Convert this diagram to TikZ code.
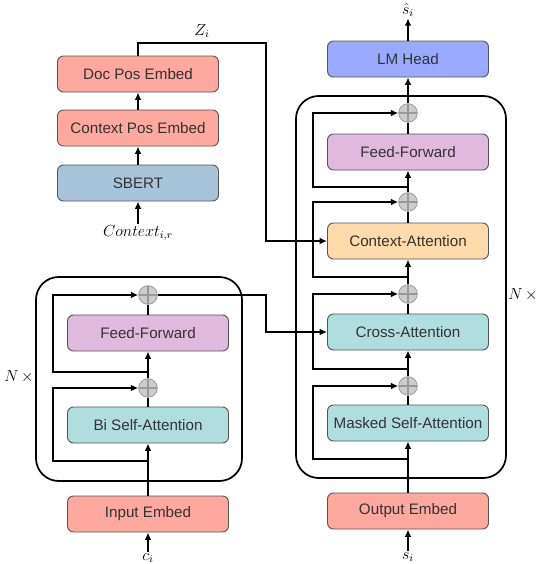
\documentclass[tikz,border=0pt]{standalone}
\usepackage{fontspec}
\setmainfont{Liberation Sans}
\usepackage{amsmath}
\usetikzlibrary{arrows.meta,calc}
\definecolor{embedsalmon}{RGB}{255,168,158}
\definecolor{sbertblue}{RGB}{168,196,218}
\definecolor{headblue}{RGB}{153,170,255}
\definecolor{attnteal}{RGB}{176,221,221}
\definecolor{ctxpeach}{RGB}{255,218,170}
\definecolor{fflavender}{RGB}{224,186,220}
\definecolor{boxedge}{RGB}{85,85,85}
\definecolor{labelgray}{RGB}{51,51,51}
\tikzset{
  >={Latex[length=5.5pt,width=5pt]},
  flow/.style={->,draw=black,line width=1.1pt},
  flowline/.style={draw=black,line width=1.1pt},
  layer/.style={
    draw=boxedge,
    rectangle,
    rounded corners=4.5pt,
    minimum height=27pt,
    minimum width=120.75pt,
    inner sep=2pt,
    align=center,
    text=labelgray,
    line width=0.7pt,
    font=\fontsize{11.4}{13}\selectfont
  },
  addnode/.style={
    draw=gray!80,
    circle,
    fill=gray!40,
    minimum size=14pt,
    inner sep=0pt,
    line width=0.6pt,
    path picture={
      \draw[gray!80,line width=0.8pt]
        (path picture bounding box.north) -- (path picture bounding box.south)
        (path picture bounding box.west) -- (path picture bounding box.east);
    }
  },
  stack/.style={draw=black,line width=1.3pt,rounded corners=17pt},
  io/.style={font=\fontsize{12}{14}\selectfont,inner sep=1pt}
}

\begin{document}
\begin{tikzpicture}[x=0.75pt,y=-0.75pt]
  \useasboundingbox (0,0) rectangle (538,564);

  % Context encoder
  \node[io] (context) at (138,233) {$Context_{i,r}$};
  \node[layer,fill=sbertblue] (sbert) at (138,183) {SBERT};
  \node[layer,fill=embedsalmon] (ctxpos) at (138,128) {Context Pos Embed};
  \node[layer,fill=embedsalmon] (docpos) at (138,74) {Doc Pos Embed};
  \coordinate (zbend) at (266,43);
  \node[io] (zlabel) at (202,31) {$Z_i$};

  \draw[flow] (context) -- (sbert);
  \draw[flow] (sbert) -- (ctxpos);
  \draw[flow] (ctxpos) -- (docpos);

  % Input encoder
  \draw[stack] (36,277) rectangle (242,481);
  \node[io] (encrepeat) at (19,377) {$N\,\times$};
  \node[io] (ci) at (148,558) {$c_i$};
  \node[layer,fill=embedsalmon] (inputembed) at (148,514) {Input Embed};
  \node[layer,fill=attnteal] (biself) at (148,425) {Bi Self-Attention};
  \node[addnode] (encaddone) at (148,388) {};
  \node[layer,fill=fflavender] (encff) at (148,333) {Feed-Forward};
  \node[addnode] (encaddtwo) at (148,295) {};
  \coordinate (encbranchone) at (148,461);
  \coordinate (encbranchtwo) at (148,372);
  \coordinate (encskip) at (53,0);
  \coordinate (encbend) at (266,295);

  \draw[flow] (ci) -- (inputembed);
  \draw[flow] (inputembed) -- (biself);
  \draw[flowline] (biself) -- (encaddone);
  \draw[flow] (encaddone) -- (encff);
  \draw[flowline] (encff) -- (encaddtwo);
  \foreach \src/\dst in {encbranchone/encaddone,encbranchtwo/encaddtwo} {
    \draw[flow] (\src) -- (\src -| encskip) |- (\dst.west);
  }

  % Decoder
  \draw[stack] (296,96) rectangle (506,478);
  \node[io] (decrepeat) at (523,295) {$N\,\times$};
  \node[io] (si) at (408,557) {$s_i$};
  \node[layer,fill=embedsalmon] (outembed) at (408,511) {Output Embed};
  \node[layer,fill=attnteal] (maskedself) at (408,423) {Masked Self-Attention};
  \node[addnode] (decaddone) at (408,386) {};
  \node[layer,fill=attnteal] (crossattn) at (408,332) {Cross-Attention};
  \node[addnode] (decaddtwo) at (408,294) {};
  \node[layer,fill=ctxpeach] (ctxattn) at (408,241) {Context-Attention};
  \node[addnode] (decaddthree) at (408,202) {};
  \node[layer,fill=fflavender] (decff) at (408,152) {Feed-Forward};
  \node[addnode] (decaddfour) at (408,113) {};
  \node[layer,fill=headblue] (lmhead) at (408,59) {LM Head};
  \node[io] (shat) at (408,10) {$\hat{s}_i$};
  \coordinate (decbranchone) at (408,459);
  \coordinate (decbranchtwo) at (408,369);
  \coordinate (decbranchthree) at (408,277);
  \coordinate (decbranchfour) at (408,187);
  \coordinate (decskip) at (313,0);

  \draw[flow] (si) -- (outembed);
  \draw[flow] (outembed) -- (maskedself);
  \draw[flowline] (maskedself) -- (decaddone);
  \draw[flow] (decaddone) -- (crossattn);
  \draw[flowline] (crossattn) -- (decaddtwo);
  \draw[flow] (decaddtwo) -- (ctxattn);
  \draw[flowline] (ctxattn) -- (decaddthree);
  \draw[flow] (decaddthree) -- (decff);
  \draw[flowline] (decff) -- (decaddfour);
  \draw[flow] (decaddfour) -- (lmhead);
  \draw[flow] (lmhead) -- (shat);
  \foreach \src/\dst in {decbranchone/decaddone,decbranchtwo/decaddtwo,
                         decbranchthree/decaddthree,decbranchfour/decaddfour} {
    \draw[flow] (\src) -- (\src -| decskip) |- (\dst.west);
  }

  % Cross links
  \draw[flow] (encaddtwo.east) -- (encbend) |- (crossattn.west);
  \draw[flow] (docpos.north) |- (zbend) |- (ctxattn.west);
\end{tikzpicture}
\end{document}
